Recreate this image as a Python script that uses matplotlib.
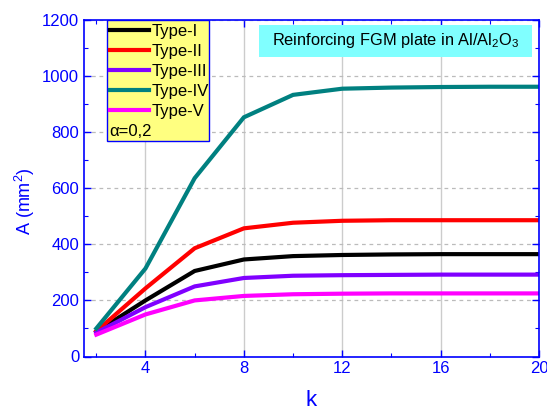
import matplotlib
matplotlib.use("Agg")
import matplotlib.pyplot as plt
from matplotlib.patches import Rectangle
from matplotlib.ticker import MultipleLocator

plt.rcParams['font.family'] = ['Liberation Sans', 'DejaVu Sans']
plt.rcParams['mathtext.fontset'] = 'custom'
plt.rcParams['mathtext.rm'] = 'Liberation Sans'
plt.rcParams['mathtext.it'] = 'Liberation Sans:italic'

k = [2, 4, 6, 8, 10, 12, 14, 16, 18, 20]
type_I = [88, 200, 305, 346, 358, 362, 364, 365, 365, 365]
type_II = [90, 243, 386, 457, 477, 484, 486, 486, 486, 486]
type_III = [85, 176, 250, 280, 288, 290, 291, 292, 292, 292]
type_IV = [100, 314, 636, 853, 933, 955, 959, 961, 962, 962]
type_V = [78, 150, 200, 216, 222, 224, 225, 225, 225, 225]

series = [
    ("Type-I", type_I, "#000000"),
    ("Type-II", type_II, "#FF0000"),
    ("Type-III", type_III, "#8000FF"),
    ("Type-IV", type_IV, "#008080"),
    ("Type-V", type_V, "#FF00FF"),
]

blue = "#0000FF"
fig = plt.figure(figsize=(5.47, 4.12), dpi=100)
AX_L, AX_R, AX_T, AX_B = 84, 539, 20, 356.5
W, H = AX_R - AX_L, AX_B - AX_T
ax = fig.add_axes([AX_L/547, 1-AX_B/412, W/547, H/412])

def ax_x(px):
    return (px - AX_L) / W

def ax_y(py):
    return 1 - (py - AX_T) / H

for name, vals, col in series:
    ax.plot(k, vals, color=col, lw=3.0, label=name, solid_joinstyle='miter')

ax.set_xlim(1.5, 20)
ax.set_ylim(0, 1200)
ax.xaxis.set_major_locator(MultipleLocator(4))
ax.xaxis.set_minor_locator(MultipleLocator(2))
ax.yaxis.set_major_locator(MultipleLocator(200))
ax.yaxis.set_minor_locator(MultipleLocator(100))

ax.xaxis.grid(True, which='major', ls='-', color='#CCCCCC', lw=1.0)
ax.yaxis.grid(True, which='major', ls=(0, (3, 3)), color='#BBBBBB', lw=0.9)
ax.set_axisbelow(True)

for s in ax.spines.values():
    s.set_color(blue)
    s.set_linewidth(1.2)
ax.tick_params(which='both', direction='in', colors=blue, top=True, right=True,
               labelsize=12)
ax.tick_params(which='major', length=5, width=1.0)
ax.tick_params(which='minor', length=3, width=0.8)
ax.tick_params(axis='both', which='both', labelcolor=blue)

ax.set_xlabel("k", color=blue, fontsize=16, va='center')
ax.xaxis.set_label_coords(ax_x(311), ax_y(401))
ax.set_ylabel("A (mm$^2$)", color=blue, fontsize=13, va='center')
ax.yaxis.set_label_coords(ax_x(25), ax_y(201))

# legend box
ax.add_patch(Rectangle((ax_x(107), ax_y(141)), (209-107)/W, (141-20)/H,
                       transform=ax.transAxes, fc='#FFFF80', ec=blue, lw=1.0,
                       zorder=4))
leg = ax.legend(loc='upper left', bbox_to_anchor=(ax_x(107), ax_y(21)), frameon=False,
                fontsize=12, handlelength=2.3, handletextpad=0.2,
                labelspacing=0.3, borderpad=0.2, borderaxespad=0)
leg.set_zorder(5)
for line in leg.get_lines():
    line.set_linewidth(3.0)
ax.text(ax_x(109), ax_y(132), "α=0,2", transform=ax.transAxes,
        fontsize=12, va='center', ha='left', zorder=6)

ax.add_patch(Rectangle((ax_x(259), ax_y(57)), (532-259)/W, (57-25)/H,
                       transform=ax.transAxes, fc='#80FFFF', ec='none', zorder=4))
ax.text(ax_x(395.5), ax_y(41), "Reinforcing FGM plate in Al/Al$_2$O$_3$",
        transform=ax.transAxes, fontsize=11.8, ha='center', va='center', zorder=6)

fig.savefig("out.png", dpi=100)
